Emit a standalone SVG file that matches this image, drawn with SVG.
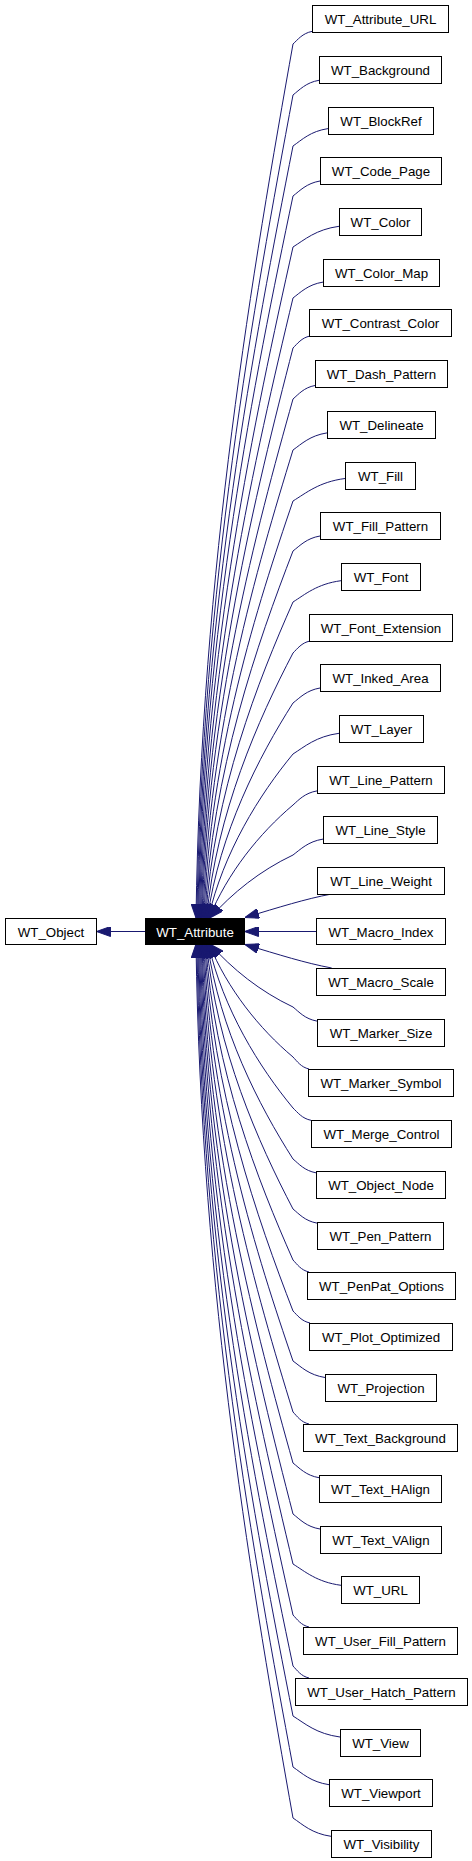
<svg xmlns="http://www.w3.org/2000/svg" width="472" height="1861" viewBox="0 0 472 1861">
<style>
.n rect{fill:#fff;stroke:#000;stroke-width:1}
.n text{font-family:"Liberation Sans",Arial,sans-serif;font-size:13.3px;text-anchor:middle;fill:#000}
#WT_Attribute rect{fill:#000}
#WT_Attribute text{fill:#fff}
.e path{fill:none;stroke:#191970;stroke-width:1;marker-end:url(#ah)}
</style>
<defs>
<marker id="ah" markerUnits="userSpaceOnUse" markerWidth="14" markerHeight="10" refX="14" refY="5" orient="auto">
<path d="M0,0 L14,5 L0,10 z" fill="#191970" stroke="#191970" stroke-width="1"/>
</marker>
</defs>
<g class="e" id="edges">
<path d="M145,931.5 L96.5,931.5"/>
<path d="M312,31.4 C302.5,33.3 297.8,39.6 293,44 C254.2,262.5 200.9,568.4 196,918"/>
<path d="M319,80.3 C306,82.5 299.5,89.9 293,95 C254.6,300.8 201.7,588.8 196.9,918"/>
<path d="M328,128.6 C310.5,131.2 301.8,139.9 293,146 C254.9,339 202.5,609.2 197.8,918"/>
<path d="M320,181 C306.5,183.3 299.8,190.8 293,196 C255.2,376.5 203.3,629.2 198.6,918"/>
<path d="M339,226.3 C316,229.4 304.5,239.8 293,247 C255.6,414.8 204.2,649.6 199.5,918"/>
<path d="M323,282.1 C308,284.5 300.5,292.4 293,298 C256,453 205.2,670 200.4,918"/>
<path d="M310,336 C301.5,337.8 297.3,343.8 293,348 C256.3,490.5 206.2,690 201.3,918"/>
<path d="M315,385.5 C304,387.5 298.5,394.3 293,399 C256.6,528.8 207.3,710.4 202.1,918"/>
<path d="M327,432.9 C310,435.5 301.5,444 293,450 C257,567 208.7,730.8 203,918"/>
<path d="M345,478.5 C319,481.9 306,493.1 293,501 C257.4,605.3 210.2,751.2 203.9,918"/>
<path d="M320,536 C306.5,538.3 299.8,545.8 293,551 C257.7,642.8 212,771.2 204.8,918"/>
<path d="M341,580.7 C317,583.9 305,594.5 293,602 C258,681 214.2,791.6 205.6,918"/>
<path d="M310,641 C301.5,642.8 297.3,648.8 293,653 C258.4,719.3 216.8,812 206.5,918"/>
<path d="M320,688 C306.5,690.3 299.8,697.8 293,703 C258.8,756.8 219.8,832 207.4,918"/>
<path d="M339,733.3 C316,736.4 304.5,746.8 293,754 C259.1,795 223.4,852.4 208.3,918"/>
<path d="M317,790.9 C305,793 299,799.6 293,805 C259.4,833.3 227.6,872.8 209.1,918"/>
<path d="M323,839.1 C308,841.5 300.5,849.4 293,855 C259.8,870.8 232.5,892.8 210,918"/>
<path d="M331.7,894 C305,899 280,907 245,917.5"/>
<path d="M316,931.5 L244.5,931.5"/>
<path d="M331.7,968 C305,963 280,955 245,944.5"/>
<path d="M317,1021.1 C305,1019 299,1011.9 293,1007 C259.8,991.3 232.5,969.2 210,944"/>
<path d="M309,1069 C301,1067.2 297,1061.2 293,1057 C259.4,1028.8 227.6,989.2 209.1,944"/>
<path d="M311,1120.3 C302,1118.5 297.5,1112.3 293,1108 C259.1,1067 223.4,1009.6 208.3,944"/>
<path d="M316,1172.8 C304.5,1170.7 298.8,1163.8 293,1159 C258.8,1105.3 219.8,1030 207.4,944"/>
<path d="M317,1223.1 C305,1221 299,1213.9 293,1209 C258.4,1142.8 216.8,1050 206.5,944"/>
<path d="M309,1272 C301,1270.2 297,1264.2 293,1260 C258,1181 214.2,1070.4 205.6,944"/>
<path d="M310,1323 C301.5,1321.2 297.3,1315.2 293,1311 C257.7,1219.3 212,1090.8 204.8,944"/>
<path d="M325,1377.5 C309,1375 301,1366.8 293,1361 C257.4,1256.8 210.2,1110.8 203.9,944"/>
<path d="M309,1424 C301,1422.2 297,1416.2 293,1412 C257,1295 208.7,1131.2 203,944"/>
<path d="M319,1477.7 C306,1475.5 299.5,1468.1 293,1463 C256.6,1333.3 207.3,1151.6 202.1,944"/>
<path d="M320,1529 C306.5,1526.8 299.8,1519.3 293,1514 C256.3,1371.5 206.2,1172 201.3,944"/>
<path d="M341,1585.3 C317,1582.1 305,1571.5 293,1564 C256,1409 205.2,1192 200.4,944"/>
<path d="M309,1627 C301,1625.2 297,1619.2 293,1615 C255.6,1447.3 204.2,1212.4 199.5,944"/>
<path d="M309,1678 C301,1676.2 297,1670.2 293,1666 C255.2,1485.5 203.3,1232.8 198.6,944"/>
<path d="M340,1737 C316.5,1733.9 304.8,1723.4 293,1716 C254.9,1523 202.5,1252.8 197.8,944"/>
<path d="M329,1784.7 C311,1782 302,1773.2 293,1767 C254.6,1561.2 201.7,1273.2 196.9,944"/>
<path d="M331,1836.3 C312,1833.6 302.5,1824.4 293,1818 C254.2,1599.5 200.9,1293.6 196,944"/>
</g>
<g class="n" id="WT_Object"><rect x="5.5" y="918.5" width="91" height="26"/><text x="51" y="937">WT_Object</text></g>
<g class="n" id="WT_Attribute"><rect x="145.5" y="918.5" width="99" height="26"/><text x="195" y="937">WT_Attribute</text></g>
<g class="n" id="WT_Attribute_URL"><rect x="312.5" y="5.5" width="136" height="27"/><text x="380.5" y="23.5">WT_Attribute_URL</text></g>
<g class="n" id="WT_Background"><rect x="319.5" y="56.5" width="122" height="27"/><text x="380.5" y="74.5">WT_Background</text></g>
<g class="n" id="WT_BlockRef"><rect x="328.5" y="107.5" width="105" height="27"/><text x="381" y="125.5">WT_BlockRef</text></g>
<g class="n" id="WT_Code_Page"><rect x="320.5" y="157.5" width="121" height="27"/><text x="381" y="175.5">WT_Code_Page</text></g>
<g class="n" id="WT_Color"><rect x="339.5" y="208.5" width="82" height="27"/><text x="380.5" y="226.5">WT_Color</text></g>
<g class="n" id="WT_Color_Map"><rect x="323.5" y="259.5" width="116" height="27"/><text x="381.5" y="277.5">WT_Color_Map</text></g>
<g class="n" id="WT_Contrast_Color"><rect x="309.5" y="309.5" width="142" height="27"/><text x="380.5" y="327.5">WT_Contrast_Color</text></g>
<g class="n" id="WT_Dash_Pattern"><rect x="315.5" y="360.5" width="132" height="27"/><text x="381.5" y="378.5">WT_Dash_Pattern</text></g>
<g class="n" id="WT_Delineate"><rect x="327.5" y="411.5" width="108" height="27"/><text x="381.5" y="429.5">WT_Delineate</text></g>
<g class="n" id="WT_Fill"><rect x="345.5" y="462.5" width="70" height="27"/><text x="380.5" y="480.5">WT_Fill</text></g>
<g class="n" id="WT_Fill_Pattern"><rect x="320.5" y="512.5" width="120" height="27"/><text x="380.5" y="530.5">WT_Fill_Pattern</text></g>
<g class="n" id="WT_Font"><rect x="341.5" y="563.5" width="79" height="27"/><text x="381" y="581.5">WT_Font</text></g>
<g class="n" id="WT_Font_Extension"><rect x="309.5" y="614.5" width="143" height="27"/><text x="381" y="632.5">WT_Font_Extension</text></g>
<g class="n" id="WT_Inked_Area"><rect x="320.5" y="664.5" width="120" height="27"/><text x="380.5" y="682.5">WT_Inked_Area</text></g>
<g class="n" id="WT_Layer"><rect x="339.5" y="715.5" width="84" height="27"/><text x="381.5" y="733.5">WT_Layer</text></g>
<g class="n" id="WT_Line_Pattern"><rect x="317.5" y="766.5" width="127" height="27"/><text x="381" y="784.5">WT_Line_Pattern</text></g>
<g class="n" id="WT_Line_Style"><rect x="323.5" y="816.5" width="114" height="27"/><text x="380.5" y="834.5">WT_Line_Style</text></g>
<g class="n" id="WT_Line_Weight"><rect x="317.5" y="867.5" width="127" height="27"/><text x="381" y="885.5">WT_Line_Weight</text></g>
<g class="n" id="WT_Macro_Index"><rect x="316.5" y="918.5" width="129" height="26"/><text x="381" y="937">WT_Macro_Index</text></g>
<g class="n" id="WT_Macro_Scale"><rect x="316.5" y="968.5" width="129" height="27"/><text x="381" y="986.5">WT_Macro_Scale</text></g>
<g class="n" id="WT_Marker_Size"><rect x="317.5" y="1019.5" width="127" height="27"/><text x="381" y="1037.5">WT_Marker_Size</text></g>
<g class="n" id="WT_Marker_Symbol"><rect x="308.5" y="1069.5" width="145" height="27"/><text x="381" y="1087.5">WT_Marker_Symbol</text></g>
<g class="n" id="WT_Merge_Control"><rect x="311.5" y="1120.5" width="140" height="27"/><text x="381.5" y="1138.5">WT_Merge_Control</text></g>
<g class="n" id="WT_Object_Node"><rect x="316.5" y="1171.5" width="129" height="27"/><text x="381" y="1189.5">WT_Object_Node</text></g>
<g class="n" id="WT_Pen_Pattern"><rect x="317.5" y="1222.5" width="126" height="27"/><text x="380.5" y="1240.5">WT_Pen_Pattern</text></g>
<g class="n" id="WT_PenPat_Options"><rect x="307.5" y="1272.5" width="148" height="27"/><text x="381.5" y="1290.5">WT_PenPat_Options</text></g>
<g class="n" id="WT_Plot_Optimized"><rect x="309.5" y="1323.5" width="143" height="27"/><text x="381" y="1341.5">WT_Plot_Optimized</text></g>
<g class="n" id="WT_Projection"><rect x="325.5" y="1374.5" width="111" height="27"/><text x="381" y="1392.5">WT_Projection</text></g>
<g class="n" id="WT_Text_Background"><rect x="303.5" y="1424.5" width="154" height="27"/><text x="380.5" y="1442.5">WT_Text_Background</text></g>
<g class="n" id="WT_Text_HAlign"><rect x="319.5" y="1475.5" width="122" height="27"/><text x="380.5" y="1493.5">WT_Text_HAlign</text></g>
<g class="n" id="WT_Text_VAlign"><rect x="320.5" y="1526.5" width="121" height="27"/><text x="381" y="1544.5">WT_Text_VAlign</text></g>
<g class="n" id="WT_URL"><rect x="341.5" y="1576.5" width="78" height="27"/><text x="380.5" y="1594.5">WT_URL</text></g>
<g class="n" id="WT_User_Fill_Pattern"><rect x="303.5" y="1627.5" width="154" height="27"/><text x="380.5" y="1645.5">WT_User_Fill_Pattern</text></g>
<g class="n" id="WT_User_Hatch_Pattern"><rect x="295.5" y="1678.5" width="172" height="27"/><text x="381.5" y="1696.5">WT_User_Hatch_Pattern</text></g>
<g class="n" id="WT_View"><rect x="340.5" y="1729.5" width="80" height="27"/><text x="380.5" y="1747.5">WT_View</text></g>
<g class="n" id="WT_Viewport"><rect x="329.5" y="1779.5" width="103" height="27"/><text x="381" y="1797.5">WT_Viewport</text></g>
<g class="n" id="WT_Visibility"><rect x="331.5" y="1830.5" width="100" height="27"/><text x="381.5" y="1848.5">WT_Visibility</text></g>
</svg>
